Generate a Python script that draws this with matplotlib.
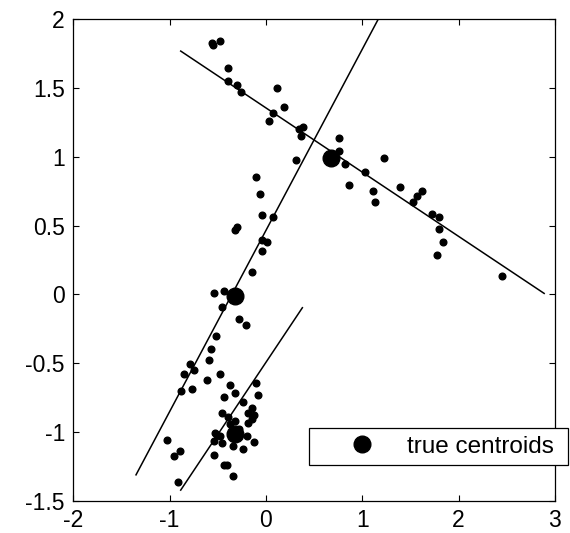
import numpy as np
import matplotlib.pyplot as plt

plt.rcParams['font.family'] = ['Liberation Sans', 'DejaVu Sans']
plt.rcParams['font.size'] = 16.5

# sample points
pts_x = [-0.563, -0.546, -0.477, -0.397, -0.397, -0.300, -0.262, 0.112, 0.191, 0.071,
         0.035, 0.388, 0.344, 0.368, 0.762, 0.762, 0.818, 0.309, 1.032, 1.230,
         -0.103, -0.064, -0.044, 0.074, -0.300, -0.321, -0.044, 0.015, -0.044, -0.144,
         -0.536, -0.438, -0.456, -0.279, -0.204, -0.515, -0.573,
         0.860, 1.112, 1.136, 1.389, 1.524, 1.566, 1.624, 1.722, 1.801, 1.801, 1.839,
         1.780, 2.449,
         -0.788, -0.591, -0.850, -0.747, -0.477, -0.615, -0.885, -0.767, -0.376, -0.318,
         -0.435, -0.103, -0.082, -0.241, -0.141, -0.456, -0.183, -0.124, -0.394, -0.144,
         -0.183, -0.318, -0.373, -0.529, -0.511, -0.539, -0.477, -0.199, -0.279, -0.456,
         -0.338, -0.241, -0.120, -0.536, -0.435, -0.407, -0.338, -1.030, -0.951, -0.892,
         -0.910]
pts_y = [1.825, 1.813, 1.840, 1.648, 1.551, 1.522, 1.471, 1.498, 1.360, 1.319,
         1.263, 1.219, 1.200, 1.151, 1.139, 1.044, 0.948, 0.975, 0.892, 0.989,
         0.851, 0.727, 0.575, 0.560, 0.492, 0.465, 0.397, 0.383, 0.315, 0.165,
         0.012, 0.026, -0.092, -0.180, -0.221, -0.303, -0.395,
         0.795, 0.754, 0.671, 0.780, 0.671, 0.713, 0.754, 0.586, 0.560, 0.477, 0.383,
         0.286, 0.135,
         -0.507, -0.475, -0.580, -0.551, -0.580, -0.623, -0.703, -0.691, -0.662, -0.716,
         -0.745, -0.647, -0.730, -0.783, -0.825, -0.866, -0.866, -0.878, -0.895, -0.905,
         -0.934, -0.921, -0.943, -1.006, -1.025, -1.065, -1.031, -1.031, -0.982, -1.084,
         -1.101, -1.127, -1.072, -1.171, -1.239, -1.239, -1.321, -1.060, -1.174, -1.142,
         -1.363]

cent_x = [0.673, -0.318, -0.321]
cent_y = [0.989, -0.015, -1.016]

# fitted lines (end points)
line1_x = [-0.885, 2.888]
line1_y = [1.769, 0.007]
line2_x = [-1.349, 1.30]
line2_y = [-1.312, 2.178]
line3_x = [-0.885, 0.378]
line3_y = [-1.423, -0.097]

fig = plt.figure(figsize=(5.7, 5.33), dpi=100)
ax = fig.add_axes([0.1286, 0.0606, 0.845, 0.9032])

ax.plot(pts_x, pts_y, 'o', color='black', markersize=4.8)
ax.plot(line1_x, line1_y, '-', color='black', linewidth=1.1)
ax.plot(line2_x, line2_y, '-', color='black', linewidth=1.1)
ax.plot(line3_x, line3_y, '-', color='black', linewidth=1.1)
cents, = ax.plot(cent_x, cent_y, 'o', color='black', markersize=12)

ax.set_xlim(-2, 3)
ax.set_ylim(-1.5, 2)
ax.set_xticks([-2, -1, 0, 1, 2, 3])
ax.set_xticklabels(['-2', '-1', '0', '1', '2', '3'])
ax.set_yticks([-1.5, -1, -0.5, 0, 0.5, 1, 1.5, 2])
ax.set_yticklabels(['-1.5', '-1', '-0.5', '0', '0.5', '1', '1.5', '2'])
ax.tick_params(direction='in', top=True, right=True, length=4, width=0.8, pad=6)
for s in ax.spines.values():
    s.set_linewidth(0.9)

leg = fig.legend([cents], ['true centroids'], loc='lower left',
                 bbox_to_anchor=(0.5426, 0.1276, 0.4544, 0.0794),
                 bbox_transform=fig.transFigure, mode='expand', borderaxespad=0,
                 fancybox=False, edgecolor='black', framealpha=1, borderpad=0.3,
                 fontsize=17.5, handlelength=3.74, handletextpad=0.0, numpoints=1)
leg.get_frame().set_linewidth(0.9)

fig.savefig('out.png', dpi=100)
